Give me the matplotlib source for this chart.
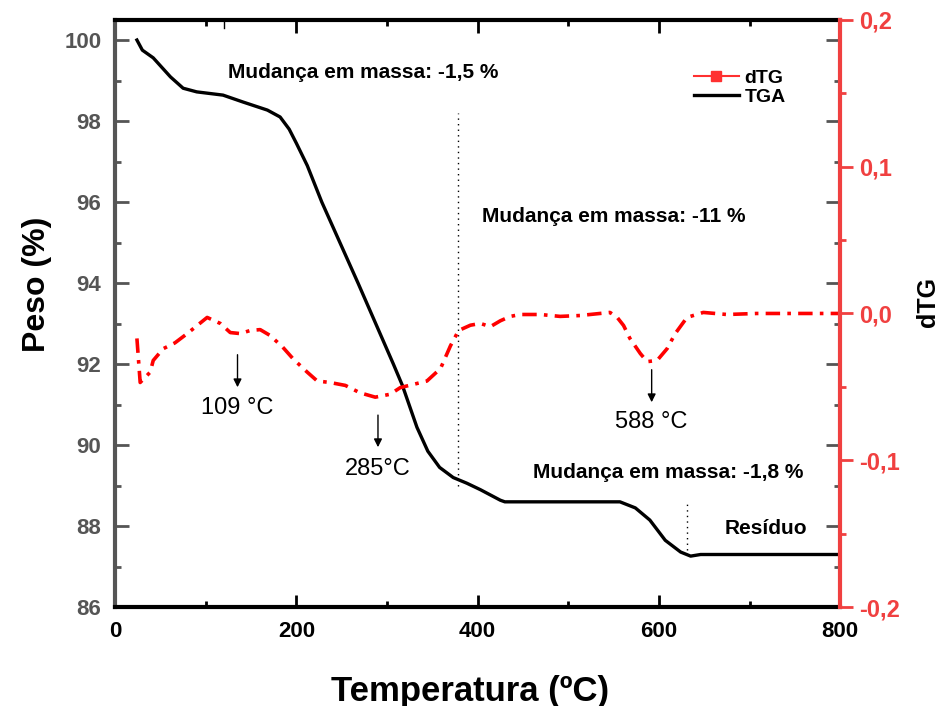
import matplotlib.pyplot as plt
import numpy as np
from matplotlib.ticker import MultipleLocator, FuncFormatter
from matplotlib.lines import Line2D

# TGA curve (Temperatura ºC, Peso %)
tga_T = [24, 30, 42, 61, 75, 90, 119, 141, 168, 182, 192, 200, 212, 228, 268,
         307, 317, 333, 345, 358, 373, 388, 403, 425, 430, 557, 574, 590, 607,
         624, 635, 646, 800]
tga_W = [100.0, 99.75, 99.56, 99.09, 98.81, 98.72, 98.64, 98.47, 98.27, 98.1,
         97.8, 97.45, 96.9, 96.0, 94.0, 92.0, 91.47, 90.44, 89.85, 89.45, 89.2,
         89.06, 88.9, 88.64, 88.6, 88.6, 88.45, 88.15, 87.65, 87.36, 87.26,
         87.3, 87.3]

# dTG curve
dtg_T = [24, 27.6, 38.6, 42, 53, 66, 79.5, 90.5, 101.5, 116, 127, 138, 149, 160,
         171, 185, 196.5, 212, 223, 237, 254, 270, 287, 303.5, 314.6, 344, 359,
         370, 379, 392, 403, 414, 425, 436, 447, 469, 491, 513, 535, 546, 554,
         561, 568, 579.5, 587, 598, 609, 618, 631, 649, 675, 708, 800]
dtg_V = [-0.017, -0.047, -0.040, -0.032, -0.024, -0.020, -0.0137, -0.0082,
         -0.0027, -0.0068, -0.013, -0.0137, -0.0116, -0.011, -0.015, -0.023,
         -0.031, -0.040, -0.046, -0.047, -0.049, -0.054, -0.057, -0.055, -0.0505,
         -0.046, -0.0375, -0.022, -0.0116, -0.008, -0.0068, -0.009, -0.005,
         -0.002, -0.0007, -0.0007, -0.002, -0.0014, 0.0, 0.0007, -0.0027,
         -0.0082, -0.017, -0.0273, -0.0328, -0.032, -0.024, -0.0137, -0.0027,
         0.0007, -0.0007, 0.0, 0.0]

# peak annotations: arrow temperature, label, arrow start/end (Peso %), text top
peaks_T = [135, 290, 592]
peaks_lbl = ['109 °C', '285°C', '588 °C']
peaks_y = [(92.3, 91.36, 91.2), (90.81, 89.88, 89.68), (91.93, 90.99, 90.83)]

grey = '#555555'
red_ax = '#f04040'
bold_sans = dict(fontweight='bold', family='Liberation Sans')

fig = plt.figure(figsize=(9.44, 7.06), dpi=100)
ax1 = fig.add_axes([0.122, 0.140, 0.768, 0.832])
ax2 = ax1.twinx()

ax1.plot(tga_T, tga_W, color='black', lw=2.4, zorder=3)
ax2.plot(dtg_T, dtg_V, color='#ff0000', lw=2.6, dashes=(4, 2, 1, 2))

ax1.set_xlim(0, 800)
ax1.set_ylim(86, 100.5)
ax2.set_ylim(-0.2, 0.2)

# ticks
ax1.xaxis.set_major_locator(MultipleLocator(200))
ax1.xaxis.set_minor_locator(MultipleLocator(100))
ax1.yaxis.set_major_locator(MultipleLocator(2))
ax1.yaxis.set_minor_locator(MultipleLocator(1))
ax1.tick_params(axis='x', which='both', direction='in', top=True, colors='black',
                width=2, labelsize=16, pad=10)
ax1.tick_params(axis='x', which='major', length=9)
ax1.tick_params(axis='x', which='minor', length=4)
ax1.tick_params(axis='y', which='both', direction='in', right=True, colors=grey,
                width=2, labelsize=16, pad=10)
ax1.tick_params(axis='y', which='major', length=10)
ax1.tick_params(axis='y', which='minor', length=4)
for lb in ax1.get_xticklabels() + ax1.get_yticklabels():
    lb.set_family('Liberation Sans')
    lb.set_weight('bold')

ax2.yaxis.set_major_locator(MultipleLocator(0.1))
ax2.yaxis.set_minor_locator(MultipleLocator(0.05))
ax2.yaxis.set_major_formatter(FuncFormatter(lambda v, p: f'{v:.1f}'.replace('.', ',').replace('-0,0', '0,0')))
ax2.tick_params(axis='y', which='both', direction='out', colors=red_ax, width=2,
                labelsize=17, pad=5)
ax2.tick_params(axis='y', which='major', length=9)
ax2.tick_params(axis='y', which='minor', length=4)
for lb in ax2.get_yticklabels():
    lb.set_family('Liberation Sans')
    lb.set_weight('bold')

for s in ['top', 'bottom']:
    ax1.spines[s].set_linewidth(3)
    ax1.spines[s].set_color('black')
ax1.spines['left'].set_linewidth(3)
ax1.spines['left'].set_color(grey)
ax1.spines['right'].set_visible(False)
ax2.spines['right'].set_linewidth(3)
ax2.spines['right'].set_color(red_ax)
for s in ['top', 'bottom', 'left']:
    ax2.spines[s].set_visible(False)

ax1.set_xlabel('Temperatura (ºC)', fontsize=25, **bold_sans)
ax1.xaxis.set_label_coords(0.49, -0.115)
ax1.set_ylabel('Peso (%)', fontsize=23, **bold_sans)
ax1.yaxis.set_label_coords(-0.087, 0.549)
ax2.set_ylabel('dTG', fontsize=18, rotation=90, **bold_sans)
ax2.yaxis.set_label_coords(1.105, 0.52)

# dotted separators
ax1.plot([378, 378], [89.0, 98.2], color='black', lw=1, ls=(0, (1, 3)))
ax1.plot([631, 631], [87.4, 88.55], color='black', lw=1, ls=(0, (1, 3)))
ax1.plot([120, 120], [100.3, 100.45], color='black', lw=1)

ax1.text(124.7, 99.21, 'Mudança em massa: -1,5 %', fontsize=15, va='center', **bold_sans)
ax1.text(405, 95.65, 'Mudança em massa: -11 %', fontsize=15, va='center', **bold_sans)
ax1.text(461, 89.33, 'Mudança em massa: -1,8 %', fontsize=15, va='center', **bold_sans)
ax1.text(672, 87.95, 'Resíduo', fontsize=15, va='center', **bold_sans)

for t, lbl, (y0, y1, yt) in zip(peaks_T, peaks_lbl, peaks_y):
    ax1.annotate('', xy=(t, y1), xytext=(t, y0),
                 arrowprops=dict(arrowstyle='-|>', color='black', lw=1,
                                 mutation_scale=12))
    ax1.text(t, yt, lbl, ha='center', va='top', fontsize=17,
             family='Liberation Sans')

handles = [Line2D([], [], color='#ff3030', lw=1.5, marker='s', markersize=7),
           Line2D([], [], color='black', lw=2.4)]
fig.legend(handles, ['dTG', 'TGA'], loc='upper left', bbox_to_anchor=(0.725, 0.916),
           bbox_transform=fig.transFigure, frameon=False, handlelength=2.3,
           handletextpad=0.3, labelspacing=0.1, borderpad=0,
           prop={'family': 'Liberation Sans', 'size': 14, 'weight': 'bold'})

plt.savefig('out.png', dpi=100)
